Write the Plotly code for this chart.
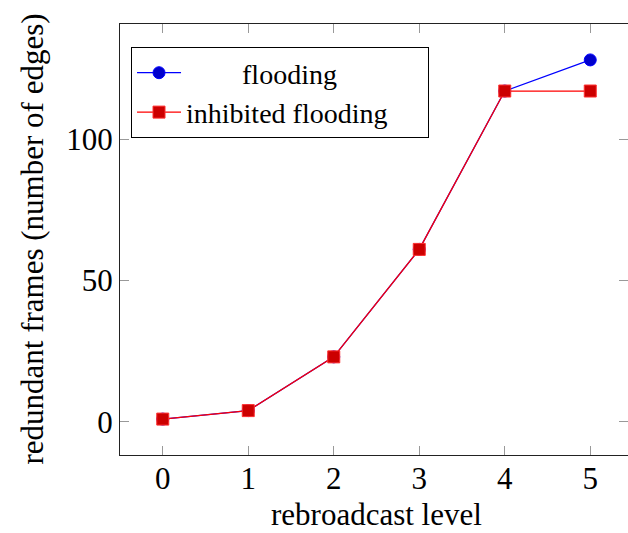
import plotly.graph_objects as go

# rebroadcast level vs. redundant frames
levels = [0, 1, 2, 3, 4, 5]
flooding = [1, 4, 23, 61, 117, 128]
inhibited = [1, 4, 23, 61, 117, 117]

x_ticks = [0, 1, 2, 3, 4, 5]
y_ticks = [0, 50, 100]

FONT = "Liberation Serif"
FS = 31
NB = "\u00a0"

fig = go.Figure()
fig.add_trace(go.Scatter(
    x=levels, y=flooding, mode="lines+markers",
    name=NB * 8 + "flooding",
    line=dict(color="#0000ff", width=1.3),
    marker=dict(symbol="circle", size=12, color="#0000cc",
                line=dict(color="#0000ff", width=1)),
))
fig.add_trace(go.Scatter(
    x=levels, y=inhibited, mode="lines+markers",
    name="inhibited flooding" + NB * 5,
    line=dict(color="#ff0000", width=1.3),
    marker=dict(symbol="square", size=12, color="#cc0000",
                line=dict(color="#ff3030", width=1)),
))

axis_common = dict(
    showgrid=False, zeroline=False,
    showline=True, linecolor="#222222", linewidth=1.2,
    ticks="inside", ticklen=9, tickwidth=1, tickcolor="#999999",
    mirror="ticks",
    tickfont=dict(family=FONT, size=FS, color="black"),
)

fig.update_xaxes(
    range=[-0.5, 5.4415], tickvals=x_ticks,
    ticktext=[str(v) for v in x_ticks], ticklabelstandoff=-4,
    **axis_common,
)
fig.update_yaxes(
    range=[-11.7, 140.7], tickvals=y_ticks,
    ticktext=[str(v) for v in y_ticks], ticklabelstandoff=0,
    **axis_common,
)

fig.add_annotation(
    text="rebroadcast level", xref="paper", yref="paper",
    x=0.504, y=0, yshift=-59, xanchor="center", yanchor="middle",
    showarrow=False, font=dict(family=FONT, size=FS, color="black"),
)
fig.add_annotation(
    text="redundant frames (number of edges)", xref="paper", yref="paper",
    x=0, y=0.5, xshift=-88, xanchor="center", yanchor="middle",
    textangle=-90, showarrow=False,
    font=dict(family=FONT, size=FS, color="black"),
)

fig.update_layout(
    width=628, height=533,
    margin=dict(l=120, r=0, t=24, b=78),
    plot_bgcolor="white", paper_bgcolor="white",
    showlegend=True,
    legend=dict(
        x=0.0217, y=0.9466, xanchor="left", yanchor="top",
        bgcolor="white", bordercolor="black", borderwidth=1,
        font=dict(family=FONT, size=28, color="black"),
        itemwidth=44, tracegroupgap=0,
    ),
)

fig.write_html("out.html")
